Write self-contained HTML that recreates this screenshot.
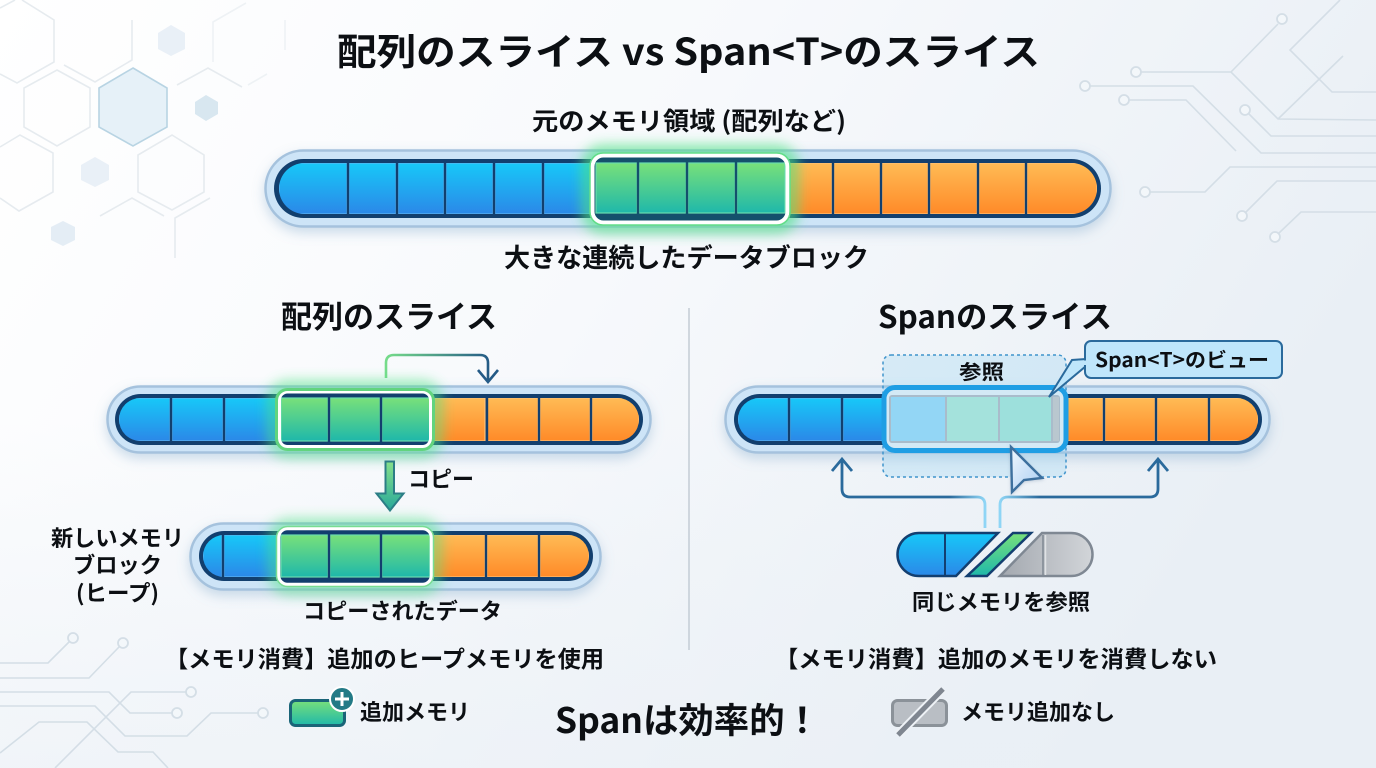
<!DOCTYPE html>
<html lang="ja"><head><meta charset="utf-8"><title>配列のスライス vs Span&lt;T&gt;のスライス</title>
<style>
html,body{margin:0;padding:0;width:1376px;height:768px;overflow:hidden;background:#f5f8fb}
svg{display:block}
text{font-family:"Noto Sans CJK JP","Liberation Sans",sans-serif;font-weight:700;fill:#0c0f13}
.c{stroke:#d4dee6;stroke-width:1.6;fill:none}
.n{stroke:#d4dee6;stroke-width:1.8;fill:#f3f7fa}
.h{stroke:#e6ebef;stroke-width:1.6;fill:none}
.hf{stroke:#eef2f5;stroke-width:1.6;fill:none}
.o{fill:#cde4f7;stroke:#a5c2dd;stroke-width:2.5}
.d{fill:#123f6e}
.v{stroke:#123f6e;stroke-width:2.4}
.w{stroke:#14506c;stroke-width:2.4}
.b{fill:url(#gb);stroke:#5fb6f2;stroke-width:1.2}
.g{fill:url(#gg);stroke:#68dcae;stroke-width:1.2}
.r{fill:url(#gr);stroke:#ffc27a;stroke-width:1.2}
</style></head><body>
<svg width="1376" height="768" viewBox="0 0 1376 768" xmlns="http://www.w3.org/2000/svg">
<defs>
<linearGradient id="bg" x1="0" y1="0" x2="1" y2="0.35"><stop offset="0" stop-color="#ffffff"/><stop offset=".5" stop-color="#f7f9fc"/><stop offset="1" stop-color="#e9eff5"/></linearGradient>
<linearGradient id="bg2" x1="0" y1="0" x2="0" y2="1"><stop offset=".55" stop-color="#e9eff5" stop-opacity="0"/><stop offset="1" stop-color="#e9eff5" stop-opacity=".55"/></linearGradient>
<linearGradient id="gb" x1="0" y1="0" x2="0" y2="1"><stop offset="0" stop-color="#17c8f8"/><stop offset="1" stop-color="#2b88e8"/></linearGradient>
<linearGradient id="gg" x1="0" y1="0" x2="0" y2="1"><stop offset="0" stop-color="#78e07a"/><stop offset="1" stop-color="#1fb8aa"/></linearGradient>
<linearGradient id="gr" x1="0" y1="0" x2="0" y2="1"><stop offset="0" stop-color="#ffbb55"/><stop offset="1" stop-color="#ff8a28"/></linearGradient>
<linearGradient id="gy" x1="0" y1="0" x2="1" y2="0"><stop offset="0" stop-color="#a3a8af"/><stop offset="1" stop-color="#d2d5d9"/></linearGradient>
<linearGradient id="cur" x1="0" y1="0" x2="1" y2="1"><stop offset="0" stop-color="#f0f7fe"/><stop offset="1" stop-color="#a9cdf2"/></linearGradient>
<linearGradient id="ca" gradientUnits="userSpaceOnUse" x1="386" y1="0" x2="490" y2="0"><stop offset="0" stop-color="#76dc8a"/><stop offset="1" stop-color="#245a86"/></linearGradient>
<linearGradient id="da" x1="0" y1="0" x2="0" y2="1"><stop offset="0" stop-color="#86e08a"/><stop offset="1" stop-color="#28a89a"/></linearGradient>
<linearGradient id="al" gradientUnits="userSpaceOnUse" x1="842" y1="0" x2="985" y2="0"><stop offset=".75" stop-color="#2a6a9c"/><stop offset="1" stop-color="#8fd6f6"/></linearGradient>
<linearGradient id="ar" gradientUnits="userSpaceOnUse" x1="1000" y1="0" x2="1158" y2="0"><stop offset="0" stop-color="#8fd6f6"/><stop offset=".25" stop-color="#2a6a9c"/></linearGradient>
<filter id="s" x="-5%" y="-40%" width="110%" height="190%"><feDropShadow dx="0" dy="5" stdDeviation="6" flood-color="#6f9cc4" flood-opacity=".35"/></filter>
<filter id="gl" x="-25%" y="-50%" width="150%" height="200%"><feGaussianBlur stdDeviation="7"/></filter>
<filter id="t" x="-20%" y="-20%" width="140%" height="140%"><feDropShadow dx="0" dy="1" stdDeviation="1.5" flood-color="#5a7a9a" flood-opacity=".3"/></filter>
<clipPath id="c0"><rect x="279" y="163" width="818" height="51" rx="25.5"/></clipPath>
<clipPath id="c1"><rect x="119" y="398" width="520" height="43" rx="21.5"/></clipPath>
<clipPath id="c2"><rect x="203" y="535" width="386" height="42" rx="21"/></clipPath>
<clipPath id="c3"><rect x="738" y="398" width="520" height="43" rx="21.5"/></clipPath>
</defs>
<rect width="1376" height="768" fill="url(#bg)"/>
<rect width="1376" height="768" fill="url(#bg2)"/>

<!-- hexagons -->
<polyline class="h" points="22,0 54,20 54,62 17,83 0,74"/><polyline class="h" points="0,8 15,0"/>
<polygon class="h" points="57,70 90,88 90,127 57,146 24,127 24,88"/>
<polygon points="133,68 167,88 167,127 133,146 99,127 99,88" fill="#e6f1f8" stroke="#b8d4e3" stroke-width="1.6"/>
<polyline class="h" points="64,65 95,82 132,60 132,20"/>
<polygon points="171,25 185,33 185,49 171,56 158,49 158,33" fill="#e9f0f7"/>
<polyline class="hf" points="246,3 213,22 213,62"/><polyline class="h" points="177,85 208,68 242,87"/><polyline class="hf" points="285,20 285,50"/><polyline class="hf" points="248,85 267,74"/>
<polygon points="206,95 218,102 218,114 206,121 195,114 195,102" fill="#d8e7f0"/>
<polyline class="h" points="0,147 20,135 53,153 53,192 19,211 0,198"/>
<polygon class="h" points="172,135 204,155 204,192 172,210 138,192 138,155"/>
<polygon points="95,157 109,165 109,180 95,187 81,180 81,165" fill="#e9f0f7"/>
<polyline class="h" points="100,216 132,198 164,216"/><polyline class="h" points="175,258 175,218 210,198"/>
<polygon points="63,221 75,227 75,240 63,246 51,240 51,227" fill="#e4edf5"/>

<!-- circuits top-right -->
<path class="c" d="M1141 72H1231L1278 119L1376 120M1231 72L1278 24M1340 0L1290 50L1332 92H1376M1343 56L1278 119M1090 86H1193L1261 153H1376M1129 100H1186L1236 151M1249 114L1271 136H1376M1150 192H1205L1230 167H1376M1246 212L1277 181H1376M1279 233L1301 212H1376"/>
<circle class="n" cx="1282" cy="19" r="5"/><circle class="n" cx="1136" cy="72" r="5"/><circle class="n" cx="1085" cy="86" r="5"/><circle class="n" cx="1124" cy="100" r="5"/><circle class="n" cx="1245" cy="110" r="5"/><circle class="n" cx="1145" cy="192" r="5"/><circle class="n" cx="1242" cy="216" r="5"/><circle class="n" cx="1275" cy="237" r="5"/>
<!-- circuits bottom-left -->
<path class="c" d="M0 663H48L69 642M0 678H89L119 647M0 692H109L130 713H172M0 706H95L125 736H187L211 713H258M0 753L39 722H87L118 752H153L168 768M55 768L131 692H186"/>
<circle class="n" cx="73" cy="638" r="5"/><circle class="n" cx="123" cy="643" r="5"/><circle class="n" cx="177" cy="713" r="5"/><circle class="n" cx="191" cy="692" r="5"/><circle class="n" cx="263" cy="713" r="5"/>

<!-- titles -->
<text x="337" y="65" font-size="37" textLength="703" lengthAdjust="spacingAndGlyphs">配列のスライス vs Span&lt;T&gt;のスライス</text>
<text x="532" y="130" font-size="25" textLength="314" lengthAdjust="spacingAndGlyphs">元のメモリ領域 (配列など)</text>

<!-- main bar -->
<rect class="o" x="265.5" y="150.5" width="845" height="76" rx="38" filter="url(#s)"/>
<rect class="d" x="274" y="159" width="827" height="59" rx="29.5"/>
<g clip-path="url(#c0)">
<rect class="b" x="279" y="163" width="68" height="51"/><rect class="b" x="349" y="163" width="47" height="51"/><rect class="b" x="398" y="163" width="46" height="51"/><rect class="b" x="446" y="163" width="47" height="51"/><rect class="b" x="495" y="163" width="47" height="51"/><rect class="b" x="544" y="163" width="50" height="51"/>
<rect class="r" x="786" y="163" width="46" height="51"/><rect class="r" x="834" y="163" width="46" height="51"/><rect class="r" x="882" y="163" width="46" height="51"/><rect class="r" x="930" y="163" width="47" height="51"/><rect class="r" x="979" y="163" width="46" height="51"/><rect class="r" x="1027" y="163" width="70" height="51"/>
</g>
<path class="v" d="M348 160V216M397 160V216M445 160V216M494 160V216M543 160V216M833 160V216M881 160V216M929 160V216M978 160V216M1026 160V216"/>
<rect x="589" y="152" width="202" height="74" rx="13" fill="none" stroke="#4fe484" stroke-width="11" opacity=".9" filter="url(#gl)"/>
<rect x="593" y="156" width="194" height="66" rx="10" fill="#14506c"/>
<rect class="g" x="596" y="163" width="41" height="50"/><rect class="g" x="639" y="163" width="47" height="50"/><rect class="g" x="688" y="163" width="47" height="50"/><rect class="g" x="737" y="163" width="48" height="50"/>
<path class="w" d="M638 158V219M687 158V219M736 158V219"/>
<rect x="592.5" y="155.5" width="195" height="67" rx="11" fill="none" stroke="#fff" stroke-width="4"/>
<rect x="590" y="153" width="200" height="72" rx="13" fill="none" stroke="#62dd88" stroke-width="1.5"/>
<text x="504" y="267" font-size="26" textLength="365" lengthAdjust="spacingAndGlyphs">大きな連続したデータブロック</text>

<text x="281" y="328" font-size="31" textLength="216" lengthAdjust="spacingAndGlyphs">配列のスライス</text>
<text x="878" y="328" font-size="31" textLength="234" lengthAdjust="spacingAndGlyphs">Spanのスライス</text>
<line x1="689" y1="308" x2="689" y2="650" stroke="#c6cfd7" stroke-width="1.6"/>

<!-- left bar 1 -->
<path d="M386 378V363Q386 355 394 355H480Q488 355 488 363V381" fill="none" stroke="url(#ca)" stroke-width="2.6"/>
<path d="M478 370L488 382L498 370" fill="none" stroke="#245a86" stroke-width="2.6"/>
<rect class="o" x="107.5" y="386.5" width="543" height="66" rx="33" filter="url(#s)"/>
<rect class="d" x="115" y="394" width="528" height="51" rx="25.5"/>
<g clip-path="url(#c1)">
<rect class="b" x="119" y="398" width="51" height="43"/><rect class="b" x="172" y="398" width="51" height="43"/><rect class="b" x="225" y="398" width="54" height="43"/>
<rect class="r" x="432" y="398" width="53" height="43"/><rect class="r" x="487" y="398" width="51" height="43"/><rect class="r" x="540" y="398" width="50" height="43"/><rect class="r" x="592" y="398" width="47" height="43"/>
</g>
<path class="v" d="M171 395V444M224 395V444M487 395V444M539 395V444M591 395V444"/>
<rect x="274" y="387" width="162" height="64" rx="13" fill="none" stroke="#4fe484" stroke-width="9" opacity=".85" filter="url(#gl)"/>
<rect x="279" y="392" width="152" height="54" rx="8" fill="#123f6e"/>
<rect class="g" x="281" y="398" width="47" height="43"/><rect class="g" x="330" y="398" width="50" height="43"/><rect class="g" x="382" y="398" width="48" height="43"/>
<path class="v" d="M329 394V445M381 394V445"/>
<rect x="279.500" y="392" width="151" height="54.500" rx="8" fill="none" stroke="#fff" stroke-width="3"/>
<rect x="276.500" y="389.500" width="157" height="60" rx="11" fill="none" stroke="#62d47e" stroke-width="3"/>

<!-- copy arrow -->
<path d="M385.500 461.500H394V493.500H403.500L390 510.500L376.500 493.500H385.500Z" fill="url(#da)" stroke="#2c7d86" stroke-width="2"/>
<text x="408" y="487" font-size="22" textLength="66" lengthAdjust="spacingAndGlyphs">コピー</text>

<!-- left bar 2 -->
<rect class="o" x="190.500" y="523.500" width="410" height="66" rx="33" filter="url(#s)"/>
<rect class="d" x="199" y="531" width="394" height="50" rx="25"/>
<g clip-path="url(#c2)">
<rect class="b" x="203" y="535" width="19" height="42"/><rect class="b" x="224" y="535" width="56" height="42"/>
<rect class="r" x="430" y="535" width="55" height="42"/><rect class="r" x="487" y="535" width="51" height="42"/><rect class="r" x="540" y="535" width="49" height="42"/>
</g>
<path class="v" d="M223 532V580M486 532V580M539 532V580"/>
<rect x="275" y="525" width="160" height="63" rx="13" fill="none" stroke="#4fe484" stroke-width="9" opacity=".8" filter="url(#gl)"/>
<rect x="279" y="529" width="152" height="55" rx="8" fill="#123f6e"/>
<rect class="g" x="281" y="535" width="47" height="42"/><rect class="g" x="330" y="535" width="50" height="42"/><rect class="g" x="382" y="535" width="48" height="42"/>
<path class="v" d="M329 530V583M381 530V583"/>
<rect x="278.500" y="528.500" width="153" height="56" rx="9" fill="none" stroke="#fff" stroke-width="3.500"/>
<rect x="276.500" y="526.500" width="157" height="60" rx="11" fill="none" stroke="#78dc92" stroke-width="1.500"/>

<text x="51" y="546" font-size="22" textLength="133" lengthAdjust="spacingAndGlyphs">新しいメモリ</text>
<text x="73" y="573" font-size="22" textLength="89" lengthAdjust="spacingAndGlyphs">ブロック</text>
<text x="76" y="601" font-size="22" textLength="83" lengthAdjust="spacingAndGlyphs">(ヒープ)</text>
<text x="303" y="619" font-size="22" textLength="199" lengthAdjust="spacingAndGlyphs">コピーされたデータ</text>

<!-- right bar -->
<rect class="o" x="725.500" y="386.500" width="544" height="66" rx="33" filter="url(#s)"/>
<rect class="d" x="734" y="394" width="528" height="51" rx="25.500"/>
<g clip-path="url(#c3)">
<rect class="b" x="738" y="398" width="50" height="43"/><rect class="b" x="790" y="398" width="51" height="43"/><rect class="b" x="843" y="398" width="42" height="43"/>
<rect class="r" x="1064" y="398" width="39" height="43"/><rect class="r" x="1105" y="398" width="50" height="43"/><rect class="r" x="1157" y="398" width="51" height="43"/><rect class="r" x="1210" y="398" width="48" height="43"/>
</g>
<path class="v" d="M789 395V444M842 395V444M1104 395V444M1156 395V444M1209 395V444"/>
<rect x="883" y="355" width="183" height="122" rx="8" fill="#8fcff0" fill-opacity=".28" stroke="#3f94cc" stroke-width="1.500" stroke-dasharray="3 3"/>
<rect x="884" y="387.500" width="182" height="63" rx="11" fill="#d3e9f5" stroke="#1f9ee4" stroke-width="5"/>
<rect x="889" y="395" width="171" height="48" rx="3" fill="#a9bccb"/>
<rect x="891" y="397" width="54" height="44" fill="#93d6f5"/><rect x="947" y="397" width="51" height="44" fill="#a4e2dc"/><rect x="1000" y="397" width="51" height="44" fill="#9de0dc"/><rect x="1053" y="397" width="6" height="44" fill="#b9c7cf"/>
<text x="959" y="379" font-size="20" textLength="45" lengthAdjust="spacingAndGlyphs">参照</text>

<!-- callout -->
<path d="M1086 359L1072 360L1049 397L1086 366Z" fill="#bfe6fb" stroke="#2a6a9c" stroke-width="2"/>
<rect x="1085" y="341" width="197" height="37" rx="6" fill="#bfe6fb" stroke="#2a6a9c" stroke-width="2"/>
<rect x="1078" y="360.500" width="9" height="4.500" fill="#bfe6fb"/>
<text x="1095" y="367" font-size="20" textLength="174" lengthAdjust="spacingAndGlyphs">Span&lt;T&gt;のビュー</text>

<!-- ref arrows -->
<path d="M842 460V489Q842 497 850 497H977Q985 497 985 505V528" fill="none" stroke="url(#al)" stroke-width="2.800"/>
<path d="M1000 528V505Q1000 497 1008 497H1150Q1158 497 1158 489V460" fill="none" stroke="url(#ar)" stroke-width="2.800"/>
<path d="M832 471L842 459L852 471M1148 471L1158 459L1168 471" fill="none" stroke="#2a6a9c" stroke-width="2.800"/>
<path d="M1011 447L1042 478L1024 480L1012 492Z" fill="url(#cur)" stroke="#3d6f9e" stroke-width="2.400" filter="url(#t)"/>

<!-- split pill -->
<path d="M919 533H998L956 576H919A21.500 21.500 0 0 1 919 533Z" fill="url(#gb)" stroke="#133f70" stroke-width="2.500"/>
<line x1="945" y1="533" x2="945" y2="576" stroke="#133f70" stroke-width="2"/>
<path d="M1013 533H1031L987 576H967Z" fill="url(#gg)" stroke="#133f70" stroke-width="2.500"/>
<path d="M1042 533H1071A21.500 21.500 0 0 1 1071 576H1000Z" fill="url(#gy)" stroke="#7f8893" stroke-width="2.500"/>
<line x1="1043" y1="535" x2="1043" y2="575" stroke="#7f8893" stroke-width="1.500"/><line x1="1045.500" y1="535" x2="1045.500" y2="575" stroke="#dfe2e5" stroke-width="1.500"/>
<text x="912" y="610" font-size="22" textLength="178" lengthAdjust="spacingAndGlyphs">同じメモリを参照</text>

<text x="165" y="667" font-size="23" textLength="439" lengthAdjust="spacingAndGlyphs">【メモリ消費】追加のヒープメモリを使用</text>
<text x="775" y="667" font-size="23" textLength="442" lengthAdjust="spacingAndGlyphs">【メモリ消費】追加のメモリを消費しない</text>

<!-- legend -->
<rect x="290.500" y="700.500" width="54" height="25" rx="5" fill="url(#gg)" stroke="#1a6478" stroke-width="3"/>
<circle cx="342" cy="699" r="12" fill="#237a86" stroke="#fff" stroke-width="2"/>
<path d="M342 692V706M335 699H349" stroke="#fff" stroke-width="3"/>
<text x="360" y="720" font-size="22" textLength="110" lengthAdjust="spacingAndGlyphs">追加メモリ</text>
<text x="555" y="733" font-size="35" textLength="265" lengthAdjust="spacingAndGlyphs">Spanは効率的！</text>
<rect x="892.500" y="700.500" width="54" height="25" rx="5" fill="#b9bec4" stroke="#8b9299" stroke-width="3"/>
<line x1="898" y1="735" x2="943" y2="689" stroke="#eef2f6" stroke-width="9"/>
<line x1="898" y1="735" x2="943" y2="689" stroke="#7f8690" stroke-width="5"/>
<text x="961" y="720" font-size="22" textLength="154" lengthAdjust="spacingAndGlyphs">メモリ追加なし</text>
</svg>
</body></html>
